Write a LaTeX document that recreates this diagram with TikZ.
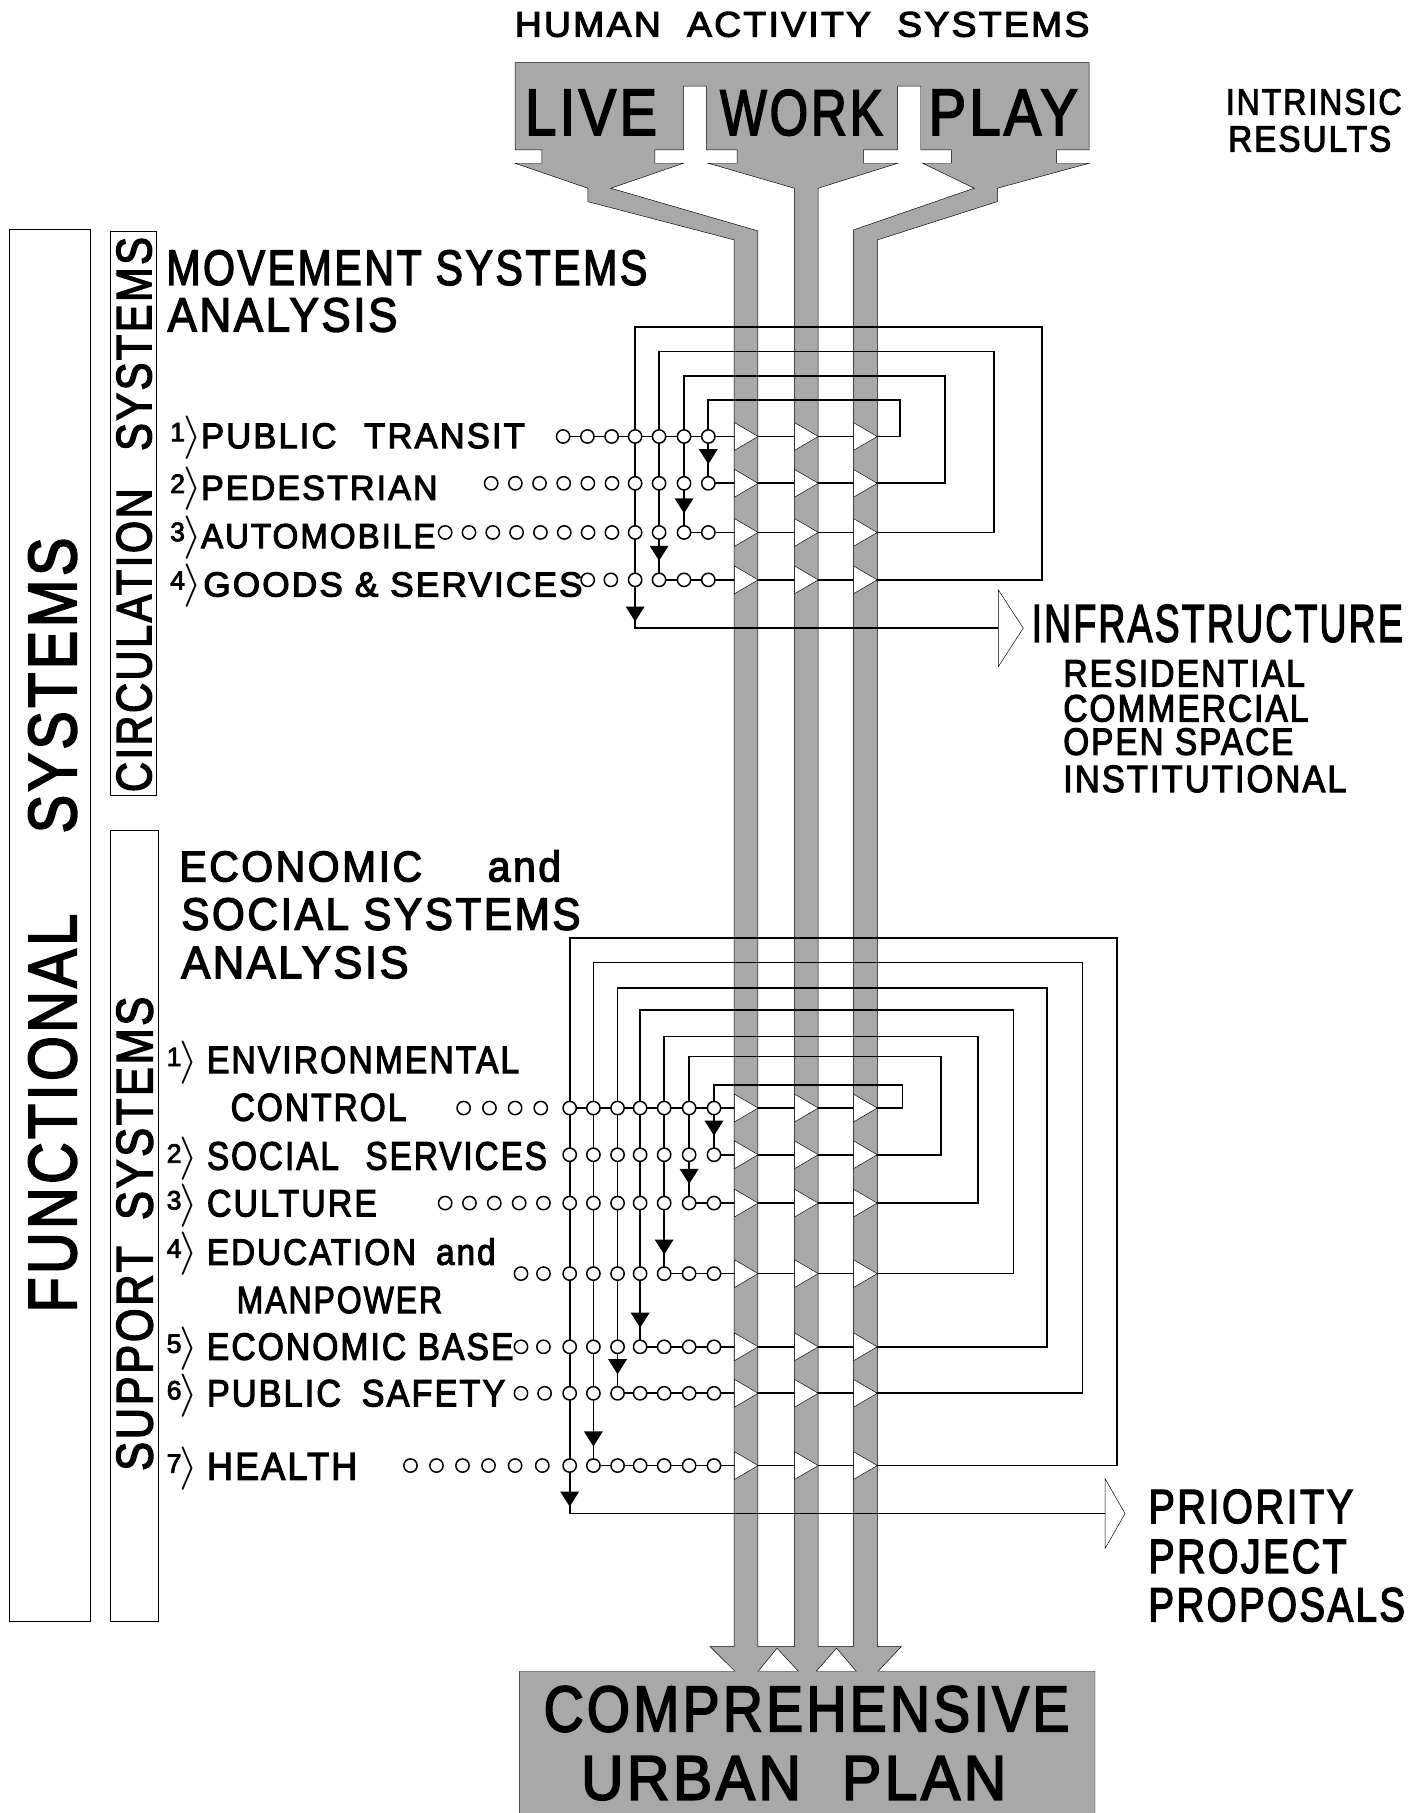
\documentclass[tikz,border=0pt]{standalone}
\usepackage{fontspec}
\setmainfont[LetterSpace=6, FakeBold=3]{Liberation Sans}
\usetikzlibrary{shapes.geometric,arrows.meta,decorations.markings}

\pgfdeclarelayer{back}
\pgfdeclarelayer{wires}
\pgfsetlayers{back,wires,main}

% lettering fitted to width and cap height
\newcommand{\caps}[3]{\resizebox{#1pt}{#2pt}{#3}}
\newcommand{\itemno}[1]{\raisebox{6pt}{\fontsize{23}{23}\selectfont #1}\kern-1.5pt\scalebox{2.9}[2.6]{\fontsize{14.4}{15}\selectfont$\rangle$}}

\tikzset{
  lbl/.style={anchor=base west, inner sep=0pt},
  dot/.style={circle, draw, fill=white, line width=1.3pt, inner sep=0pt, minimum size=11.5pt},
  chtri/.style={isosceles triangle, isosceles triangle stretches, shape border rotate=0,
    draw, fill=white, inner sep=0pt, minimum height=20.5pt, minimum width=24pt, anchor=lower side},
  bigtri/.style={isosceles triangle, isosceles triangle stretches, shape border rotate=0,
    draw, fill=white, inner sep=0pt, anchor=lower side},
  sysbox/.style={draw, inner sep=0pt},
  wire/.style={line width=1.5pt},
  feed/.style={wire, postaction={decorate},
    decoration={markings, mark=at position #1 with {\arrow{Triangle[width=16pt,length=13pt]}}}},
}

\begin{document}
\begin{tikzpicture}[x=1pt,y=-1pt,line width=1.5pt]
\path[use as bounding box] (0,0) rectangle (1233,1568);

% activity channels
\begin{pgfonlayer}{back}
\filldraw[fill=black!34, even odd rule, line join=miter]
  (445.5,54.2) -- (942,54.2) -- (942,129.7) -- (913.8,129.7) -- (913.8,141.2) -- (942,141.2)
  -- (862.5,162.8) -- (862.5,174.4) -- (758.8,207.5) -- (758.8,1424) -- (779.6,1424)
  -- (759.4,1445.4) -- (947,1445.4) -- (947,1580) -- (449.4,1580) -- (449.4,1445.4)
  -- (635.6,1445.4) -- (614,1424) -- (635,1424) -- (635,207.5) -- (508.4,174.4)
  -- (508.4,162.8) -- (445.5,141.2) -- (468.7,141.2) -- (468.7,129.7) -- (445.5,129.7) -- cycle
  (591,74.4) -- (611,74.4) -- (611,129.7) -- (637.5,129.7) -- (637.5,141.2) -- (612.6,141.2)
  -- (687,162.8) -- (687,1424) -- (655.5,1424) -- (655.5,199.7) -- (528.3,162.8)
  -- (591,141.2) -- (566.3,141.2) -- (566.3,129.7) -- (591,129.7) -- cycle
  (776.4,74.4) -- (796.3,74.4) -- (796.3,129.7) -- (822.8,129.7) -- (822.8,141.2) -- (798,141.2)
  -- (842.6,162.8) -- (738,198.9) -- (738,1424) -- (707.5,1424) -- (707.5,162.8)
  -- (776.4,141.2) -- (746.7,141.2) -- (746.7,129.7) -- (776.4,129.7) -- cycle
  (672,1425.5) -- (690.5,1445.4) -- (655.7,1445.4) -- cycle
  (723.4,1425.5) -- (740.6,1445.4) -- (706,1445.4) -- cycle;
\end{pgfonlayer}

% headings
\node[lbl] (human) at (445,31.7) {\caps{497}{21.5}{HUMAN\hspace{.7em}ACTIVITY\hspace{.7em}SYSTEMS}};
\node[lbl] (live) at (454,116.7) {\caps{114}{39}{LIVE}};
\node[lbl] (work) at (622.6,116.7) {\caps{140.6}{39}{WORK}};
\node[lbl] (play) at (803,116.7) {\caps{129}{39}{PLAY}};
\node[lbl] (intrinsic) at (1060,99) {\caps{152}{22}{INTRINSIC}};
\node[lbl] (results) at (1062,131) {\caps{141}{22}{RESULTS}};
\node[lbl] (movement) at (143.6,246.4) {\caps{416}{30}{MOVEMENT SYSTEMS}};
\node[lbl] (analysis-m) at (144.8,286.7) {\caps{198.7}{29}{ANALYSIS}};
\node[lbl] (economic) at (155,762.3) {\caps{330}{27}{ECONOMIC\hspace{1.6em}and}};
\node[lbl] (social) at (156.6,804.1) {\caps{345.3}{27.4}{SOCIAL SYSTEMS}};
\node[lbl] (analysis-s) at (156.6,845.9) {\caps{196.6}{27.4}{ANALYSIS}};
\node[lbl] (comprehensive) at (470,1497.3) {\caps{454.6}{39}{COMPREHENSIVE}};
\node[lbl] (urban) at (502.4,1556.4) {\caps{367.6}{37.4}{URBAN\hspace{.7em}PLAN}};

% system boxes
\node[sysbox, minimum width=70pt, minimum height=1204pt] (functional-box) at (43,800) {};
\node[rotate=90, inner sep=0pt] (functional) at (45.5,800) {\caps{670}{41}{FUNCTIONAL\hspace{1.4em}SYSTEMS}};
\node[sysbox, minimum width=40pt, minimum height=488pt] (circulation-box) at (115,444) {};
\node[rotate=90, inner sep=0pt] (circulation) at (116,445) {\caps{480}{30}{CIRCULATION\hspace{.9em}SYSTEMS}};
\node[sysbox, minimum width=42pt, minimum height=684pt] (support-box) at (116,1060) {};
\node[rotate=90, inner sep=0pt] (support) at (116.5,1067) {\caps{410}{31}{SUPPORT\hspace{.6em}SYSTEMS}};

% circulation items
\node[lbl] (mn-1) at (147,387.6) {\itemno{1}};
\node[lbl] (ml-1) at (173.7,387.6) {\caps{280}{21.6}{PUBLIC\hspace{.8em}TRANSIT}};
\node[lbl] (mn-2) at (147,432.3) {\itemno{2}};
\node[lbl] (ml-2) at (173.7,432.3) {\caps{204.6}{21}{PEDESTRIAN}};
\node[lbl] (mn-3) at (147,474) {\itemno{3}};
\node[lbl] (ml-3) at (173.7,474) {\caps{202.7}{21}{AUTOMOBILE}};
\node[lbl] (mn-4) at (147,515.9) {\itemno{4}};
\node[lbl] (ml-4) at (175.6,515.9) {\caps{328}{21}{GOODS \& SERVICES}};

% support items
\node[lbl] (sn-1) at (144,928) {\itemno{1}};
\node[lbl] (sl-1) at (178.8,928) {\caps{270}{23}{ENVIRONMENTAL}};
\node[lbl] (sl-1b) at (199.3,969.3) {\caps{152}{23.5}{CONTROL}};
\node[lbl] (sn-2) at (144,1011.6) {\itemno{2}};
\node[lbl] (sl-2) at (178.8,1011.6) {\caps{294}{24}{SOCIAL\hspace{.8em}SERVICES}};
\node[lbl] (sn-3) at (144,1052) {\itemno{3}};
\node[lbl] (sl-3) at (178.8,1052) {\caps{147}{23}{CULTURE}};
\node[lbl] (sn-4) at (144,1093.8) {\itemno{4}};
\node[lbl] (sl-4) at (178.8,1093.8) {\caps{249.6}{23}{EDUCATION\hspace{.6em}and}};
\node[lbl] (sl-4b) at (204.5,1135.6) {\caps{177.7}{23}{MANPOWER}};
\node[lbl] (sn-5) at (144,1176) {\itemno{5}};
\node[lbl] (sl-5) at (178.8,1176) {\caps{265}{23}{ECONOMIC BASE}};
\node[lbl] (sn-6) at (144,1216.3) {\itemno{6}};
\node[lbl] (sl-6) at (178.8,1216.3) {\caps{258}{23}{PUBLIC\hspace{.6em}SAFETY}};
\node[lbl] (sn-7) at (144,1279.7) {\itemno{7}};
\node[lbl] (sl-7) at (178.8,1279.7) {\caps{130}{23}{HEALTH}};

% results
\node[bigtri, minimum height=21.6pt, minimum width=66.3pt] (infra) at (863.2,543.3) {};
\node[lbl] (infra-text) at (892,555) {\caps{321}{32}{INFRASTRUCTURE}};
\node[lbl] (residential) at (919.4,593.7) {\caps{209}{23}{RESIDENTIAL}};
\node[lbl] (commercial) at (919.4,624) {\caps{212}{23}{COMMERCIAL}};
\node[lbl] (openspace) at (919.4,652.8) {\caps{199}{23}{OPEN SPACE}};
\node[lbl] (institutional) at (919.4,685) {\caps{245}{23}{INSTITUTIONAL}};
\node[bigtri, minimum height=17.3pt, minimum width=60.5pt] (prio) at (955.5,1309) {};
\node[lbl] (priority) at (993,1317.2) {\caps{177.2}{29}{PRIORITY}};
\node[lbl] (project) at (993,1360.4) {\caps{171.5}{29}{PROJECT}};
\node[lbl] (proposals) at (993,1402.2) {\caps{222}{29}{PROPOSALS}};

% circulation matrix
\foreach \r/\y in {1/377.5,2/418,3/460.5,4/501.5}{
  \foreach \c/\x in {1/549.3,2/570,3/591.6,4/612.6}
    \node[dot] (m-\r-\c) at (\x,\y) {};
  \foreach \t/\x in {1/635,2/687,3/738}
    \node[chtri] (mt-\r-\t) at (\x,\y) {};
}
\foreach \x [count=\k] in {487,508,529}
  \node[dot] (m-1-l\k) at (\x,377.5) {};
\foreach \x [count=\k] in {424.8,445.7,466.6,487.5,508.4,529.3}
  \node[dot] (m-2-l\k) at (\x,418) {};
\foreach \x [count=\k] in {385,405.6,426.2,446.8,467.4,488,508.6,529.2}
  \node[dot] (m-3-l\k) at (\x,460.5) {};
\foreach \x [count=\k] in {508.3,528.3}
  \node[dot] (m-4-l\k) at (\x,501.5) {};

% support matrix
\foreach \r/\y in {1/958.3,2/998.7,3/1040.5,4/1101.5,5/1164.8,6/1205,7/1267.5}{
  \foreach \c/\x in {1/492.7,2/513.2,3/534.1,4/553.6,5/574.4,6/596,7/617.5}
    \node[dot] (s-\r-\c) at (\x,\y) {};
  \foreach \t/\x in {1/635,2/687,3/738}
    \node[chtri] (st-\r-\t) at (\x,\y) {};
}
\foreach \x [count=\k] in {401,423.3,445.5,467.7}
  \node[dot] (s-1-l\k) at (\x,958.3) {};
\foreach \x [count=\k] in {385,406,427.5,449,470}
  \node[dot] (s-3-l\k) at (\x,1040.5) {};
\foreach \x [count=\k] in {450.6,470}
  \node[dot] (s-4-l\k) at (\x,1101.5) {};
\foreach \x [count=\k] in {450.6,470}
  \node[dot] (s-5-l\k) at (\x,1164.8) {};
\foreach \x [count=\k] in {450.6,471}
  \node[dot] (s-6-l\k) at (\x,1205) {};
\foreach \x [count=\k] in {355,377.5,400,422.5,445.5,469}
  \node[dot] (s-7-l\k) at (\x,1267.5) {};

% feedback loops
\begin{pgfonlayer}{wires}
\draw[feed=-16.5pt] (m-1-l1.center) -- (mt-1-3.apex) -| (778.5,345.9) -| (m-2-4.center);
\draw[feed=-16.5pt] (m-2-4.center) -- (mt-2-3.apex) -| (817,325.2) -| (m-3-3.center);
\draw[feed=-16.5pt] (m-3-3.center) -- (mt-3-3.apex) -| (859.7,304.1) -| (m-4-2.center);
\draw[feed=-319.6pt] (m-4-2.center) -- (mt-4-3.apex) -| (901,283.1) -| (549.3,543.3) -- (infra.lower side);
\foreach \r/\a/\b/\rx/\ty in {1/1/7/780.6/938.2, 2/7/6/813.7/913.7, 3/6/5/845.8/896.4,
    4/5/4/876.6/873.3, 5/4/3/905.3/854.6, 6/3/2/936.1/832.4}{
  \pgfmathtruncatemacro{\nx}{\r+1}
  \draw[feed=-16.5pt] (s-\r-\a.center) -- (st-\r-3.apex) -| (\rx,\ty) -| (s-\nx-\b.center);
}
\draw[feed=-468.8pt] (s-7-2.center) -- (st-7-3.apex) -| (965.9,811.3) -| (492.7,1309) -- (prio.lower side);
\end{pgfonlayer}
\end{tikzpicture}
\end{document}
